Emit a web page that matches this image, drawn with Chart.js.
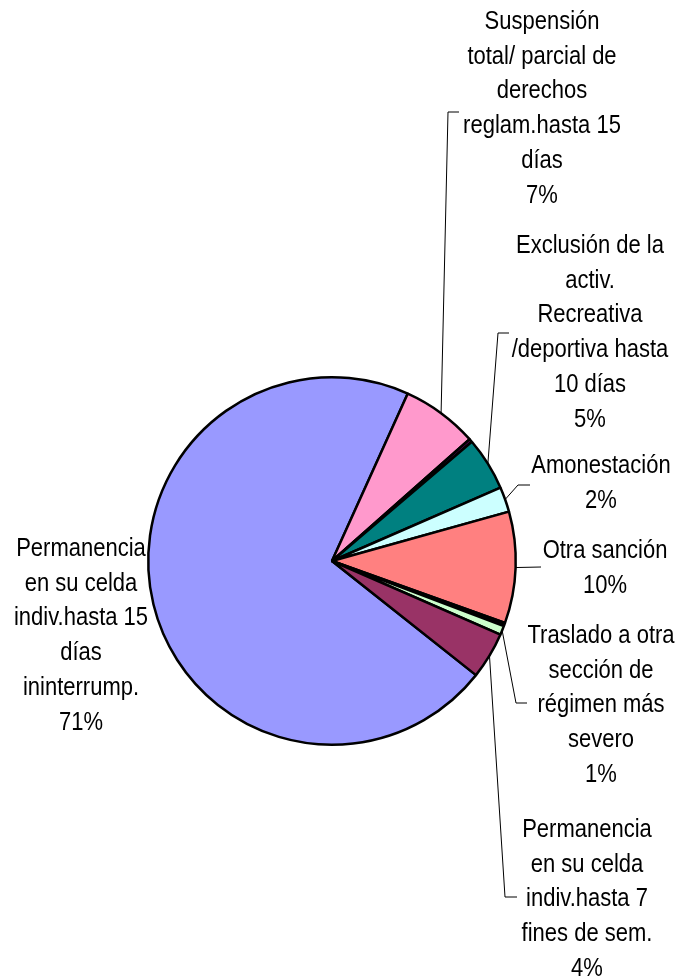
<!DOCTYPE html>
<html>
<head>
<meta charset="utf-8">
<script src="https://cdn.jsdelivr.net/npm/chart.js@4.4.1/dist/chart.umd.min.js"></script>
<style>
  body { margin: 0; background: #fff; }
  #wrap { width: 683px; height: 979px; }
</style>
</head>
<body>
<div id="wrap"><canvas id="pieChart" width="683" height="979"></canvas></div>
<script>
// slices, clockwise from the big one
const categories = [
    'Permanencia en su celda indiv.hasta 15 días ininterrump.',
    'Suspensión total/ parcial de derechos reglam.hasta 15 días',
    '(sin rótulo)',
    'Exclusión de la activ. Recreativa /deportiva hasta 10 días',
    'Amonestación',
    'Otra sanción',
    '(sin rótulo)',
    'Traslado a otra sección de régimen más severo',
    'Permanencia en su celda indiv.hasta 7 fines de sem.'
];
const labelLines = [
    ['Permanencia', 'en su celda', 'indiv.hasta 15', 'días', 'ininterrump.'],
    ['Suspensión', 'total/ parcial de', 'derechos', 'reglam.hasta 15', 'días'],
    null,
    ['Exclusión de la', 'activ.', 'Recreativa', '/deportiva hasta', '10 días'],
    ['Amonestación'],
    ['Otra sanción'],
    null,
    ['Traslado a otra', 'sección de', 'régimen más', 'severo'],
    ['Permanencia', 'en su celda', 'indiv.hasta 7', 'fines de sem.']
];
const values = [71.1, 6.7, 0.3, 4.7, 2.2, 9.8, 0.3, 0.8, 4.1];
const sliceColors = ['#9999FF', '#FF99CC', '#660066', '#008080', '#CCFFFF', '#FF8080', '#000000', '#CCFFCC', '#993366'];

// where each label sits and how its leader line bends
const labelLayout = [
    { cx: 81, y0: 549 },
    { cx: 542, y0: 22, corner: [448, 112], end: [459, 112] },
    null,
    { cx: 590, y0: 246, corner: [498, 333], end: [509, 333] },
    { cx: 601, y0: 466, corner: [518, 485], end: [530, 485] },
    { cx: 605, y0: 551, end: [541, 567] },
    null,
    { cx: 601, y0: 636, corner: [516, 703], end: [527, 703] },
    { cx: 587, y0: 830, corner: [505, 897], end: [517, 897] }
];

const lineGap = 34.8;

const outsideLabels = {
    id: 'outsideLabels',
    afterDatasetsDraw(chart) {
        const ctx = chart.ctx;
        const arcs = chart.getDatasetMeta(0).data;
        ctx.save();
        ctx.font = '25px "Liberation Sans", Arial, sans-serif';
        ctx.textAlign = 'center';
        ctx.textBaseline = 'middle';
        ctx.fillStyle = '#000';
        ctx.strokeStyle = '#000';
        ctx.lineWidth = 1;

        arcs.forEach((arc, i) => {
            const lay = labelLayout[i];
            if (!lay || !labelLines[i]) return;
            const p = arc.getProps(['x', 'y', 'startAngle', 'endAngle', 'outerRadius'], true);
            const mid = (p.startAngle + p.endAngle) / 2;
            const ex = p.x + Math.cos(mid) * p.outerRadius;
            const ey = p.y + Math.sin(mid) * p.outerRadius;

            if (lay.end) {
                ctx.beginPath();
                ctx.moveTo(ex, ey);
                if (lay.corner) ctx.lineTo(lay.corner[0], lay.corner[1]);
                ctx.lineTo(lay.end[0], lay.end[1]);
                ctx.stroke();
            }

            const lines = labelLines[i].concat([Math.round(values[i]) + '%']);
            lines.forEach((txt, k) => {
                ctx.save();
                ctx.translate(lay.cx, lay.y0 + k * lineGap);
                ctx.scale(0.88, 1);
                ctx.fillText(txt, 0, 0);
                ctx.restore();
            });
        });
        ctx.restore();
    }
};

const ctx = document.getElementById('pieChart').getContext('2d');
const chart = new Chart(ctx, {
    type: 'pie',
    data: {
        labels: categories,
        datasets: [{
            data: values,
            backgroundColor: sliceColors,
            borderColor: '#000',
            borderWidth: 2.5,
            hoverOffset: 0
        }]
    },
    options: {
        responsive: false,
        animation: false,
        rotation: 128.4,
        layout: {
            padding: { left: 147, right: 166, top: 376, bottom: 233 }
        },
        plugins: {
            legend: { display: false },
            tooltip: { enabled: false },
            title: { display: false }
        }
    },
    plugins: [outsideLabels]
});
</script>
</body>
</html>
